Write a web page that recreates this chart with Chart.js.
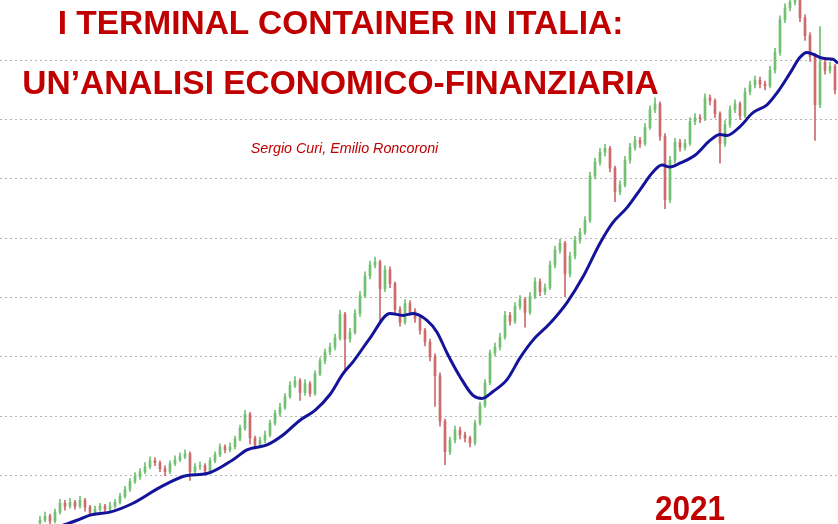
<!DOCTYPE html>
<html>
<head>
<meta charset="utf-8">
<script src="https://cdn.jsdelivr.net/npm/chart.js@4.4.1/dist/chart.umd.min.js"></script>
<style>
  body { margin: 0; background: #fff; }
  #wrap { position: relative; width: 838px; height: 524px; overflow: hidden; }
  #wrap canvas { position: absolute; left: 0; top: 0; }
  .txt { position: absolute; color: #c00000; font-family: "Liberation Sans", Arial, sans-serif; line-height: 1; white-space: nowrap; text-align: center; }
  .title { font-weight: bold; font-size: 33.5px; left: 0; width: 681px; }
  .authors { font-style: italic; font-size: 14.3px; left: 0; width: 689px; top: 141px; }
  .year { font-weight: bold; font-size: 35px; left: 640px; width: 100px; top: 490px; transform: scaleX(0.9); }
</style>
</head>
<body>
<div id="wrap">
  <canvas id="myChart" width="838" height="524"></canvas>
  <div class="txt title" style="top:6px">I TERMINAL CONTAINER IN ITALIA:</div>
  <div class="txt title" style="top:66px">UN’ANALISI ECONOMICO-FINANZIARIA</div>
  <div class="txt authors">Sergio Curi, Emilio Roncoroni</div>
  <div class="txt year">2021</div>
</div>
<script>
// candles, one per period
const opens = [12, 15, 19, 14, 23, 32, 29, 33, 29, 35, 28, 22, 26, 29, 26, 29, 33, 39, 46, 54,
    59, 64, 69, 75, 73, 67, 64, 72, 76, 79, 82, 64, 69, 70, 65, 75, 81, 89, 86, 89,
    97, 108, 122, 98, 91, 96, 101, 113, 123, 129, 140, 151, 156, 144, 153, 143, 163, 176, 185, 190,
    199, 223, 198, 205, 224, 242, 262, 273, 276, 249, 268, 254, 228, 215, 234, 226, 219, 207, 195, 180,
    161, 115, 84, 96, 106, 101, 98, 93, 113, 131, 154, 184, 190, 200, 222, 216, 231, 238, 225, 241,
    256, 246, 250, 273, 288, 295, 264, 282, 298, 306, 318, 363, 377, 387, 391, 371, 347, 354, 379, 392,
    399, 396, 412, 430, 436, 403, 339, 379, 397, 392, 396, 418, 422, 421, 442, 439, 426, 396, 415, 430,
    436, 424, 448, 455, 460, 456, 454, 470, 488, 521, 533, 539, 546, 523, 505, 484, 435, 478, 470, 474];
const closes = [15, 19, 14, 23, 32, 29, 33, 29, 35, 28, 22, 26, 29, 26, 29, 33, 39, 46, 54, 59,
    64, 69, 75, 73, 67, 64, 72, 76, 79, 82, 64, 69, 70, 65, 75, 81, 89, 86, 89, 97,
    108, 122, 98, 91, 96, 101, 113, 123, 129, 140, 151, 156, 144, 153, 143, 163, 176, 185, 190, 199,
    223, 198, 205, 224, 242, 262, 273, 276, 249, 268, 254, 228, 215, 234, 226, 219, 207, 195, 180, 161,
    115, 84, 96, 106, 101, 98, 93, 113, 131, 154, 184, 190, 200, 222, 216, 231, 238, 225, 241, 256,
    246, 250, 273, 288, 295, 264, 282, 298, 306, 318, 363, 377, 387, 391, 371, 347, 354, 379, 392, 399,
    396, 412, 430, 436, 403, 339, 379, 397, 392, 396, 418, 422, 421, 442, 439, 426, 396, 415, 430, 436,
    424, 448, 455, 460, 456, 454, 470, 488, 521, 533, 539, 546, 523, 505, 484, 435, 478, 470, 474, 450];
const highs = [19, 23, 21, 26, 36, 35, 37, 35, 39, 37, 30, 29, 32, 31, 33, 36, 42, 49, 57, 63,
    67, 73, 79, 78, 75, 70, 75, 80, 83, 86, 84, 72, 74, 72, 78, 84, 92, 91, 93, 100,
    111, 126, 124, 100, 99, 105, 116, 126, 133, 143, 155, 160, 158, 157, 155, 166, 179, 188, 194, 203,
    227, 225, 209, 228, 246, 266, 277, 281, 278, 272, 271, 256, 231, 238, 237, 229, 222, 209, 198, 183,
    164, 117, 99, 110, 109, 104, 100, 116, 134, 157, 187, 194, 204, 226, 225, 235, 242, 240, 245, 260,
    259, 254, 277, 292, 299, 297, 286, 302, 310, 322, 367, 381, 391, 395, 393, 373, 358, 383, 396, 403,
    402, 416, 434, 442, 438, 406, 383, 401, 400, 400, 422, 426, 425, 446, 445, 441, 428, 419, 434, 440,
    438, 452, 459, 464, 463, 459, 474, 492, 525, 537, 544, 558, 549, 526, 508, 487, 514, 482, 478, 476];
const lows = [9, 13, 10, 12, 21, 25, 27, 26, 27, 24, 19, 20, 24, 23, 24, 27, 31, 37, 44, 52,
    56, 62, 67, 70, 64, 60, 62, 70, 74, 77, 55, 61, 66, 62, 63, 73, 79, 83, 84, 87,
    95, 106, 92, 87, 88, 93, 99, 111, 120, 127, 138, 149, 136, 141, 140, 141, 161, 173, 182, 187,
    197, 164, 195, 203, 221, 240, 259, 270, 215, 246, 250, 224, 211, 213, 222, 215, 203, 191, 176, 130,
    110, 71, 81, 93, 97, 94, 89, 91, 111, 129, 152, 181, 187, 198, 212, 214, 228, 210, 223, 239,
    242, 243, 248, 270, 285, 241, 261, 279, 295, 304, 316, 360, 374, 383, 367, 337, 344, 352, 376, 389,
    392, 394, 410, 427, 399, 330, 336, 376, 388, 389, 394, 415, 417, 419, 435, 422, 376, 393, 412, 427,
    420, 422, 445, 452, 452, 450, 452, 467, 485, 518, 530, 536, 519, 500, 479, 399, 432, 466, 467, 446];

const maPeriods = [0, 3, 5.4, 8, 10, 14, 18.6, 24, 29.4, 33.4, 38.6, 41.4, 45.4, 48.6, 52,
    55, 58, 60.6, 62.6, 66, 70, 72.6, 74.6, 77.4, 79.4, 81.4, 84, 86.6, 88.4, 90.6,
    93.4, 96, 98.6, 102, 105.4, 108.6, 112, 114.6, 117.4, 120, 122.6, 124.4, 126, 128, 131,
    134, 136, 137.4, 140, 142.6, 145.4, 147.4, 150, 152, 153.4, 156.6, 158.6, 159.6];
const maValues = [0, 7, 11, 16, 20, 23, 32, 48, 60, 62, 76, 86, 91, 101, 116,
    126, 142, 163, 175, 199, 224, 222, 224, 217, 205, 184, 160, 141, 138, 145,
    157, 179, 197, 214, 235, 261, 295, 316, 331, 349, 367, 374, 372, 376, 384,
    399, 405, 404, 413, 427, 435, 447, 467, 483, 488, 482, 481, 477];

const gridStep = 60;

const upColor = '#72c072';
const downColor = '#cc6b6b';
const candleColor = c => closes[c.dataIndex] >= opens[c.dataIndex] ? upColor : downColor;

const ctx = document.getElementById('myChart').getContext('2d');

new Chart(ctx, {
    type: 'bar',
    data: {
        datasets: [{
            type: 'line',
            data: maPeriods.map((p, i) => ({ x: p, y: maValues[i] })),
            borderColor: '#14149a',
            borderWidth: 3,
            pointRadius: 0,
            cubicInterpolationMode: 'monotone',
            order: 0
        }, {
            data: opens.map((o, i) => ({ x: i, y: [o, closes[i]] })),
            backgroundColor: candleColor,
            barThickness: 2,
            grouped: false,
            order: 1
        }, {
            data: lows.map((l, i) => ({ x: i, y: [l, highs[i]] })),
            backgroundColor: candleColor,
            barThickness: 1,
            grouped: false,
            order: 2
        }]
    },
    options: {
        responsive: false,
        animation: false,
        devicePixelRatio: 1,
        layout: { padding: 0 },
        plugins: { legend: { display: false }, tooltip: { enabled: false } },
        scales: {
            x: { type: 'linear', min: -8, max: 159.6, offset: false, display: false },
            y: {
                min: 11,
                max: 541,
                ticks: { display: false, stepSize: gridStep },
                afterBuildTicks: axis => {
                    axis.ticks = axis.ticks.filter(t => t.value % gridStep === 0);
                },
                grid: { color: '#b4b4b4', lineWidth: 1, drawTicks: false },
                border: { display: false, dash: [2, 3] }
            }
        }
    }
});
</script>
</body>
</html>
